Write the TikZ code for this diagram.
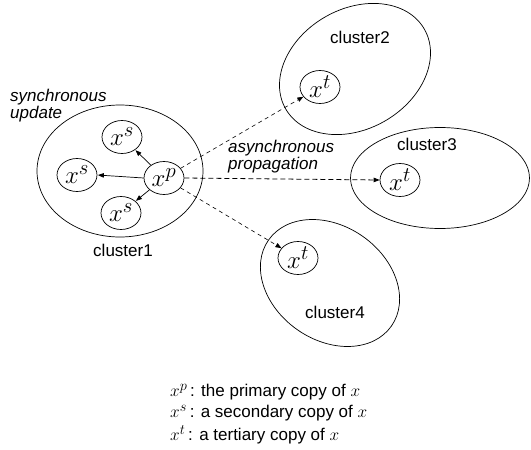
\documentclass[tikz,border=0pt]{standalone}
\usepackage{fontspec}
\setmainfont{Liberation Sans}
\usetikzlibrary{shapes.geometric,arrows.meta}
\tikzset{
  cluster/.style={draw, ellipse, line width=0.7pt, inner sep=0pt},
  copynode/.style={draw, ellipse, line width=0.7pt, inner sep=0pt, minimum width=40pt, minimum height=33pt, font=\fontsize{28}{28}\selectfont},
  lbl/.style={font=\fontsize{17}{17}\selectfont},
  ilbl/.style={font=\fontsize{17}{15.5}\selectfont\itshape, align=left, inner sep=0pt},
  sync/.style={-{Triangle[length=6pt,width=4.5pt]}, line width=0.7pt, shorten >=0.5pt},
  async/.style={-{Triangle[length=6pt,width=4.5pt]}, line width=0.6pt, dash pattern=on 4pt off 3.5pt},
  asynch/.style={-{Triangle[length=6pt,width=4.5pt]}, line width=0.8pt, dash pattern=on 5pt off 3pt},
  legend/.style={font=\fontsize{17}{17}\selectfont, anchor=west, inner sep=0pt}
}
\begin{document}
\begin{tikzpicture}[x=1pt,y=-1pt]
\useasboundingbox (0,0) rectangle (531,450);
% clusters
\node[cluster, minimum width=166pt, minimum height=132pt] (c1) at (120,171) {};
\node[cluster, minimum width=160pt, minimum height=120pt, rotate=30] (c2) at (355,69) {};
\node[cluster, minimum width=179pt, minimum height=101pt] (c3) at (440,178) {};
\node[cluster, minimum width=150pt, minimum height=114pt, rotate=-35] (c4) at (330,283) {};
% cluster labels
\node[lbl] (l1) at (123,250) {cluster1};
\node[lbl] (l2) at (360,37) {cluster2};
\node[lbl] (l3) at (427,144) {cluster3};
\node[lbl] (l4) at (335,312) {cluster4};
% copies
\node[copynode] (xp) at (164,178) {$x^p$};
\node[copynode] (xs1) at (122,137) {$x^s$};
\node[copynode] (xs2) at (77,175) {$x^s$};
\node[copynode] (xs3) at (121,213) {$x^s$};
\node[copynode] (xt2) at (320,87) {$x^t$};
\node[copynode] (xt3) at (400,180) {$x^t$};
\node[copynode] (xt4) at (298,258) {$x^t$};
% arrows
\draw[sync] (xp) -- (xs1);
\draw[sync] (xp.west) -- (xs2.east);
\draw[sync] (xp) -- (xs3);
\draw[async] (xp) -- (xt2);
\draw[asynch] (xp.east) -- (xt3.west);
\draw[async] (xp) -- (xt4);
% text labels
\node[ilbl, anchor=west] (syn) at (10,106) {synchronous\\update};
\node[ilbl, anchor=west] (asyn) at (228,157) {asynchronous\\propagation};
% legend
\node[legend] (k1) at (170,392) {{\fontsize{19}{19}\selectfont$x^p$}\,: the primary copy of {\fontsize{19}{19}\selectfont$x$}};
\node[legend] (k2) at (170,413) {{\fontsize{19}{19}\selectfont$x^s$}\,: a secondary copy of {\fontsize{19}{19}\selectfont$x$}};
\node[legend] (k3) at (170,435) {{\fontsize{19}{19}\selectfont$x^t$}\,: a tertiary copy of {\fontsize{19}{19}\selectfont$x$}};
\end{tikzpicture}
\end{document}
